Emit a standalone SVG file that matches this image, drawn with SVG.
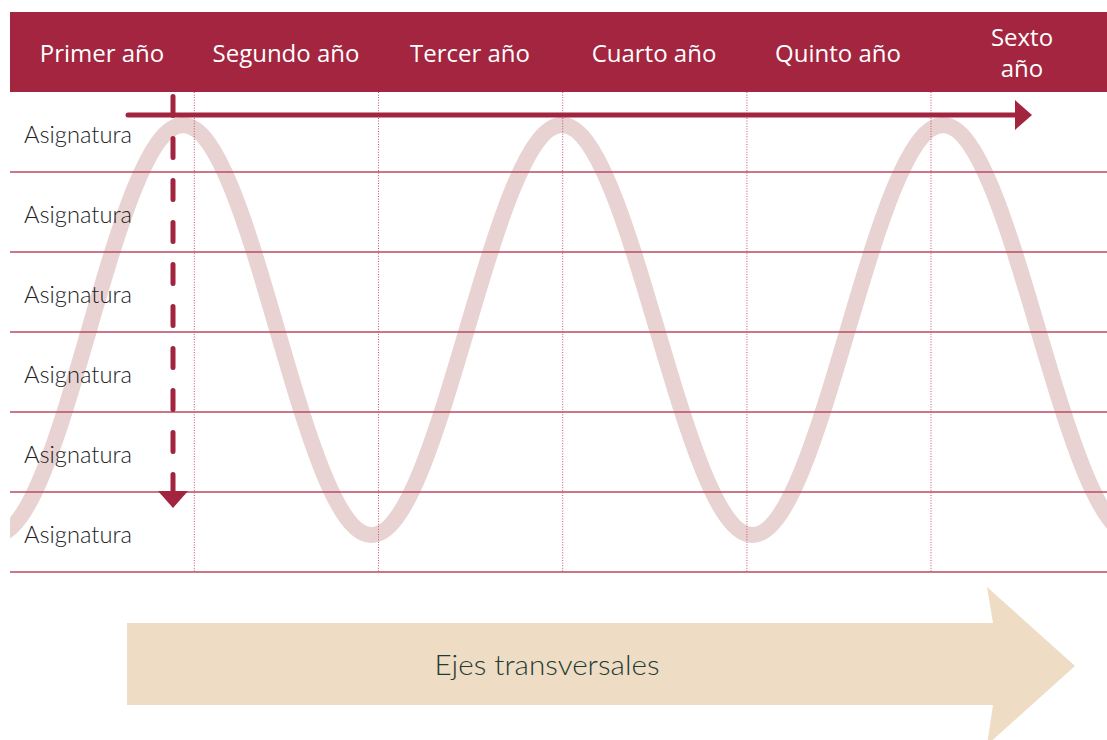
<svg xmlns="http://www.w3.org/2000/svg" width="1107" height="740" viewBox="0 0 1107 740">
  <style>
    .hdr { font-family: "Open Sans", "Lato", sans-serif; font-size: 24px; fill: #ffffff; text-anchor: middle; }
    .row { font-family: "Lato", "Liberation Sans", sans-serif; font-weight: 300; font-size: 24px; fill: #222222; }
    .hline { stroke: #b84a63; stroke-width: 1.3; }
    .vline { stroke: #c4506c; stroke-width: 1; stroke-dasharray: 1 1.6; }
    .wave { fill: none; stroke: #e9d2d2; stroke-width: 16; }
    .accent { stroke: #a2243f; fill: none; stroke-width: 5; stroke-linecap: round; }
    .tri { fill: #a2243f; }
  </style>
  <defs>
    <clipPath id="clip">
      <rect x="10" y="0" width="1097" height="740"/>
    </clipPath>
  </defs>
  <rect width="1107" height="740" fill="#ffffff"/>

  <!-- wave -->
  <g id="wave" clip-path="url(#clip)">
    <path class="wave" d="M -5 535 C 64 535, 114 125, 183 125 C 252.2 125, 302.3 535, 371.5 535 C 440.7 535, 492.8 125, 562 125 C 631.2 125, 683.3 535, 752.5 535 C 821.7 535, 873.8 125, 943 125 C 1012.2 125, 1064.3 535, 1133.5 535"/>
  </g>

  <!-- header -->
  <g id="header">
    <rect x="10" y="12" width="1097" height="80" fill="#a3253f"/>
    <text class="hdr" x="102" y="62">Primer año</text>
    <text class="hdr" x="286" y="62">Segundo año</text>
    <text class="hdr" x="470" y="62">Tercer año</text>
    <text class="hdr" x="654" y="62">Cuarto año</text>
    <text class="hdr" x="838" y="62">Quinto año</text>
    <text class="hdr" x="1022" y="46">Sexto</text>
    <text class="hdr" x="1022" y="77">año</text>
  </g>

  <!-- grid -->
  <g id="grid">
    <line class="hline" x1="10" y1="172" x2="1107" y2="172"/>
    <line class="hline" x1="10" y1="252" x2="1107" y2="252"/>
    <line class="hline" x1="10" y1="332" x2="1107" y2="332"/>
    <line class="hline" x1="10" y1="412" x2="1107" y2="412"/>
    <line class="hline" x1="10" y1="492" x2="1107" y2="492"/>
    <line class="hline" x1="10" y1="572" x2="1107" y2="572"/>
    <line class="vline" x1="194.3" y1="92" x2="194.3" y2="572"/>
    <line class="vline" x1="378.5" y1="92" x2="378.5" y2="572"/>
    <line class="vline" x1="562.7" y1="92" x2="562.7" y2="572"/>
    <line class="vline" x1="746.9" y1="92" x2="746.9" y2="572"/>
    <line class="vline" x1="931" y1="92" x2="931" y2="572"/>
  </g>

  <!-- row labels -->
  <g id="rows">
    <text class="row" x="24" y="143" textLength="108" lengthAdjust="spacingAndGlyphs">Asignatura</text>
    <text class="row" x="24" y="223" textLength="108" lengthAdjust="spacingAndGlyphs">Asignatura</text>
    <text class="row" x="24" y="303" textLength="108" lengthAdjust="spacingAndGlyphs">Asignatura</text>
    <text class="row" x="24" y="383" textLength="108" lengthAdjust="spacingAndGlyphs">Asignatura</text>
    <text class="row" x="24" y="463" textLength="108" lengthAdjust="spacingAndGlyphs">Asignatura</text>
    <text class="row" x="24" y="543" textLength="108" lengthAdjust="spacingAndGlyphs">Asignatura</text>
  </g>

  <!-- connectors -->
  <g id="connectors">
    <line class="accent" x1="128" y1="115" x2="1016" y2="115"/>
    <polygon class="tri" points="1015,100 1032,115 1015,130"/>
    <line class="accent" x1="173" y1="96.5" x2="173" y2="492" stroke-dasharray="19 23"/>
    <polygon class="tri" points="158,491 188,491 173,508"/>
  </g>

  <!-- transversal axis arrow -->
  <g id="ejes">
    <polygon fill="#eedcc4" points="127,623 993,623 987,587 1075,666 987,745 993,705 127,705"/>
    <text x="547" y="675" font-family="Lato, 'Liberation Sans', sans-serif" font-weight="300" font-size="28" fill="#1f3b33" text-anchor="middle" textLength="225" lengthAdjust="spacingAndGlyphs">Ejes transversales</text>
  </g>
</svg>
